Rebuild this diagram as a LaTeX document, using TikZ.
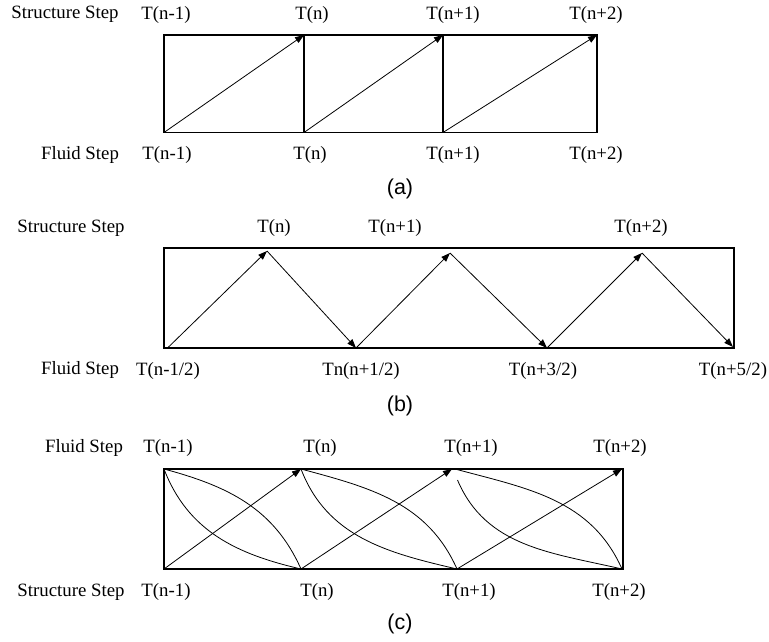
\documentclass[tikz,border=0pt]{standalone}
\usepackage{fontspec}
\setmainfont{Liberation Serif}
\newfontfamily\capfont{Liberation Sans}
\usetikzlibrary{arrows.meta}
\begin{document}
\begin{tikzpicture}[x=1pt,y=-1pt,
  lbl/.style={inner sep=0pt,font=\fontsize{18.8}{22}\selectfont},
  captxt/.style={inner sep=0pt,font=\capfont\fontsize{21.5}{25}\selectfont},
  frame/.style={draw,line width=1.1pt},
  arr/.style={line width=0.8pt,-{Triangle[length=9pt,width=6.5pt]}},
  crv/.style={line width=0.8pt}]
\useasboundingbox (0,0) rectangle (769,642);

% ---------- (a) ----------
\coordinate (a00) at (164,132.5);
\coordinate (a01) at (304,132.5);
\coordinate (a02) at (443,132.5);
\coordinate (a03) at (597,132.5);
\coordinate (a10) at (164,35);
\coordinate (a11) at (304,35);
\coordinate (a12) at (443,35);
\coordinate (a13) at (597,35);
\draw[frame] (a10) rectangle (a03);
\draw[frame] (a11) -- (a01);
\draw[frame] (a12) -- (a02);
\draw[arr] (a00) -- (a11);
\draw[arr] (a01) -- (a12);
\draw[arr] (a02) -- (a13);
\node[lbl] (aSS) at (65,14) {Structure Step};
\node[lbl] (aT1) at (166,15) {T(n-1)};
\node[lbl] (aT2) at (312,15) {T(n)};
\node[lbl] (aT3) at (453,15) {T(n+1)};
\node[lbl] (aT4) at (596,15) {T(n+2)};
\node[lbl] (aFS) at (80,155) {Fluid Step};
\node[lbl] (aB1) at (167,155) {T(n-1)};
\node[lbl] (aB2) at (310,155) {T(n)};
\node[lbl] (aB3) at (453,155) {T(n+1)};
\node[lbl] (aB4) at (596,155) {T(n+2)};
\node[captxt] (capa) at (400,189) {(a)};

% ---------- (b) ----------
\coordinate (bTL) at (164,248);
\coordinate (bBR) at (734,348);
\coordinate (b0) at (167,348.5);
\coordinate (b1) at (267,251);
\coordinate (b2) at (356,348);
\coordinate (b3) at (450,253);
\coordinate (b4) at (547,348);
\coordinate (b5) at (642,253);
\coordinate (b6) at (733,347);
\draw[frame] (bTL) rectangle (bBR);
\draw[arr] (b0) -- (b1);
\draw[arr] (b1) -- (b2);
\draw[arr] (b2) -- (b3);
\draw[arr] (b3) -- (b4);
\draw[arr] (b4) -- (b5);
\draw[arr] (b5) -- (b6);
\node[lbl] (bSS) at (71,228) {Structure Step};
\node[lbl] (bT1) at (274,228) {T(n)};
\node[lbl] (bT2) at (395,228) {T(n+1)};
\node[lbl] (bT3) at (641,228) {T(n+2)};
\node[lbl] (bFS) at (80,370) {Fluid Step};
\node[lbl] (bB1) at (168,371) {T(n-1/2)};
\node[lbl] (bB2) at (361,371) {Tn(n+1/2)};
\node[lbl] (bB3) at (543,371) {T(n+3/2)};
\node[lbl] (bB4) at (733,371) {T(n+5/2)};
\node[captxt] (capb) at (400,406) {(b)};

% ---------- (c) ----------
\coordinate (cTL) at (164,469);
\coordinate (cBR) at (623,569);
\coordinate (c0) at (164,569);
\coordinate (c1) at (301,569);
\coordinate (c2) at (457,569);
\coordinate (c3) at (622,569);
\coordinate (t0) at (164,469);
\coordinate (t1) at (301,469);
\coordinate (t2) at (452,469);
\coordinate (t2b) at (455,469);
\coordinate (t2a) at (457.5,480);
\coordinate (t3) at (622,469);
\draw[frame] (cTL) rectangle (cBR);
\draw[arr] (c0) -- (t1);
\draw[arr] (c1) -- (t2);
\draw[arr] (c2) -- (t3);
\draw[crv] (t0) to[out=-15,in=114] (c1);
\draw[crv] (t0) to[out=-69,in=167] (c1);
\draw[crv] (t1) to[out=-15,in=114] (c2);
\draw[crv] (t1) to[out=-69,in=167] (c2);
\draw[crv] (t2b) to[out=-15,in=114] (c3);
\draw[crv] (t2a) to[out=-67,in=167] (c3);
\node[lbl] (cFS) at (84,448) {Fluid Step};
\node[lbl] (cT1) at (168,448) {T(n-1)};
\node[lbl] (cT2) at (320,448) {T(n)};
\node[lbl] (cT3) at (471,448) {T(n+1)};
\node[lbl] (cT4) at (620,448) {T(n+2)};
\node[lbl] (cSS) at (71,592) {Structure Step};
\node[lbl] (cB1) at (166,592) {T(n-1)};
\node[lbl] (cB2) at (317,592) {T(n)};
\node[lbl] (cB3) at (469,592) {T(n+1)};
\node[lbl] (cB4) at (619,592) {T(n+2)};
\node[captxt] (capc) at (400,624) {(c)};
\end{tikzpicture}
\end{document}
